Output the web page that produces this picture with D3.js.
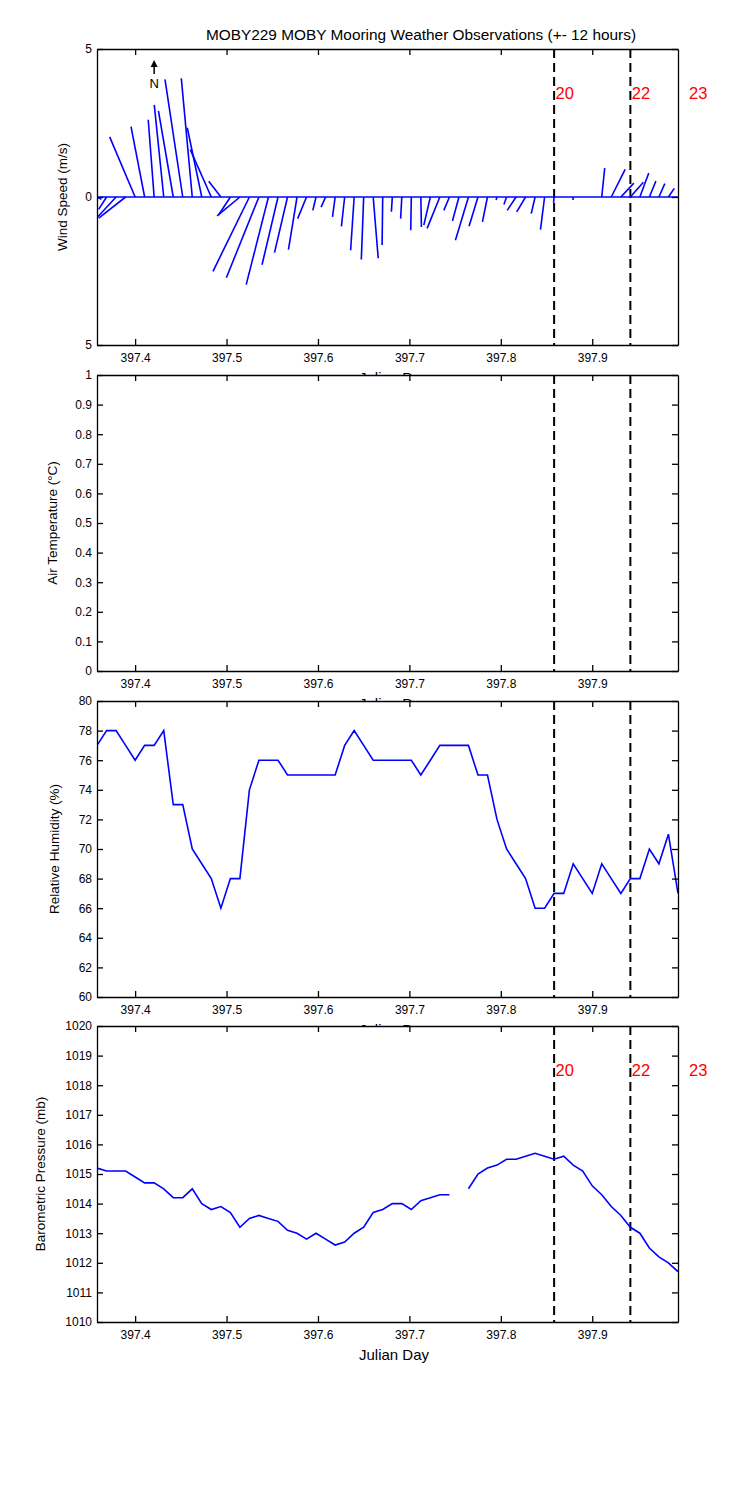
<!DOCTYPE html>
<html><head><meta charset="utf-8">
<script src="https://cdn.jsdelivr.net/npm/d3@7"></script>
<style>
body{margin:0;background:#fff}
svg text{font-family:"Liberation Sans",Arial,Helvetica,sans-serif;fill:#000}
</style></head>
<body><svg id="c" width="750" height="1500"></svg>
<script>
// ---------- data ----------
const julianDay = [397.3583,397.3688,397.3792,397.3896,397.4000,397.4104,397.4208,397.4313,397.4417,397.4521,
397.4625,397.4729,397.4833,397.4938,397.5042,397.5146,397.5250,397.5354,397.5458,397.5563,
397.5667,397.5771,397.5875,397.5979,397.6083,397.6188,397.6292,397.6396,397.6500,397.6604,
397.6708,397.6813,397.6917,397.7021,397.7125,397.7229,397.7333,397.7438,397.7542,397.7646,
397.7750,397.7854,397.7958,397.8063,397.8167,397.8271,397.8375,397.8479,397.8583,397.8688,
397.8792,397.8896,397.9000,397.9104,397.9208,397.9313,397.9417,397.9521,397.9625,397.9729,
397.9833,397.9938];
// wind vector components (m/s): east (u) and north (v)
const windU = [0.15,-0.27,-0.61,-0.91,-0.86,-0.46,-0.20,-0.32,-0.50,-0.60,
-0.37,-0.49,-0.71,-0.41,-0.40,-0.77,-1.23,-1.10,-0.75,-0.54,
-0.44,-0.29,-0.30,-0.11,-0.15,-0.09,-0.11,-0.12,-0.08,0.17,
-0.02,-0.03,-0.04,-0.02,0.02,-0.22,-0.43,-0.19,-0.22,-0.44,
-0.30,-0.17,-0.03,-0.09,-0.30,-0.30,-0.13,-0.14,-0.02,0,
-0.01,0,0,0.10,0.47,0.44,0.44,0.30,0.22,0.20,
0.20,0];
const windV = [-0.08,-0.42,-0.66,-0.71,2.03,2.38,2.61,3.11,2.91,3.97,
4.01,2.34,1.60,0.53,-0.61,-0.64,-2.51,-2.73,-2.96,-2.29,
-1.88,-1.78,-0.73,-0.45,-0.34,-0.67,-0.99,-1.80,-2.11,-2.07,
-1.62,-0.50,-0.73,-1.12,-1.01,-0.95,-1.06,-0.45,-0.81,-1.46,
-0.99,-0.84,-0.10,-0.25,-0.45,-0.50,-0.56,-1.10,-0.20,0,
-0.10,0,0,0.98,0.93,0.47,0.50,0.81,0.54,0.45,
0.29,0];
const humidity = [77,78,78,77,76,77,77,78,73,73,
70,69,68,66,68,68,74,76,76,76,
75,75,75,75,75,75,77,78,77,76,
76,76,76,76,75,76,77,77,77,77,
75,75,72,70,69,68,66,66,67,67,
69,68,67,69,68,67,68,68,70,69,
71,67];
const pressure = [1015.2,1015.1,1015.1,1015.1,1014.9,1014.7,1014.7,1014.5,1014.2,1014.2,
1014.5,1014.0,1013.8,1013.9,1013.7,1013.2,1013.5,1013.6,1013.5,1013.4,
1013.1,1013.0,1012.8,1013.0,1012.8,1012.6,1012.7,1013.0,1013.2,1013.7,
1013.8,1014.0,1014.0,1013.8,1014.1,1014.2,1014.3,1014.3,null,1014.5,
1015.0,1015.2,1015.3,1015.5,1015.5,1015.6,1015.7,1015.6,1015.5,1015.6,
1015.3,1015.1,1014.6,1014.3,1013.9,1013.6,1013.2,1013.0,1012.5,1012.2,
1012.0,1011.7];
const eventDays = [397.8583,397.9417,398.0042];
const eventLabels = ["20","22","23"];
const xTicks = [397.4,397.5,397.6,397.7,397.8,397.9];
const windTicks = [5,0,-5];
const windTickLabels = ["5","0","5"];
const tempTicks = [0,0.1,0.2,0.3,0.4,0.5,0.6,0.7,0.8,0.9,1];
const humTicks = [60,62,64,66,68,70,72,74,76,78,80];
const presTicks = [1010,1011,1012,1013,1014,1015,1016,1017,1018,1019,1020];
const titleText = "MOBY229 MOBY Mooring Weather Observations (+- 12 hours)";

// ---------- layout ----------
const svg = d3.select("#c");
const L = 97, R = 678, H = 296;
const tops = [49, 375, 701, 1026];
const x = d3.scaleLinear().domain([julianDay[0], julianDay[julianDay.length-1]]).range([L, R]);
const BLUE = "#0000ff";

svg.append("text").attr("x", 421).attr("y", 40).attr("text-anchor","middle")
  .style("font-size","15.4px").text(titleText);

function panel(i, domain, ticks, tickFmt, ylabel, ylabelX){
  const top = tops[i];
  const y = d3.scaleLinear().domain(domain).range([top+H, top]);
  const g = svg.append("g");
  g.append("rect").attr("x",L).attr("y",top).attr("width",R-L).attr("height",H).attr("fill","#fff");
  const cid = "clip"+i;
  g.append("clipPath").attr("id",cid).append("rect").attr("x",L).attr("y",top).attr("width",R-L).attr("height",H);
  const plot = g.append("g").attr("clip-path","url(#"+cid+")");
  const ax = (sel) => { sel.selectAll("path,line").attr("stroke","#000").attr("stroke-width",1.3);
    sel.selectAll("text").style("font-size","12px").attr("fill","#000"); };
  g.append("g").attr("transform",`translate(0,${top+H})`)
    .call(d3.axisBottom(x).tickValues(xTicks).tickSizeInner(-6).tickSizeOuter(0).tickPadding(8).tickFormat(d3.format(".1f"))).call(ax);
  g.append("g").attr("transform",`translate(0,${top})`)
    .call(d3.axisTop(x).tickValues(xTicks).tickSizeInner(-6).tickSizeOuter(0).tickFormat("")).call(ax);
  g.append("g").attr("transform",`translate(${L},0)`)
    .call(d3.axisLeft(y).tickValues(ticks).tickSizeInner(-6).tickSizeOuter(0).tickPadding(5).tickFormat(tickFmt)).call(ax);
  g.append("g").attr("transform",`translate(${R},0)`)
    .call(d3.axisRight(y).tickValues(ticks).tickSizeInner(-6).tickSizeOuter(0).tickFormat("")).call(ax);
  g.selectAll(".domain").attr("fill","none");
  g.append("text").attr("x", 394).attr("y", top+H+38).attr("text-anchor","middle").style("font-size","15px").text("Julian Day");
  g.append("text").attr("transform",`translate(${ylabelX},${top+H/2}) rotate(-90)`).attr("text-anchor","middle")
    .style("font-size","13.5px").text(ylabel);
  plot.selectAll("line.ev").data(eventDays).join("line").attr("class","ev")
    .attr("x1",d=>x(d)).attr("x2",d=>x(d)).attr("y1",top).attr("y2",top+H)
    .attr("stroke","#000").attr("stroke-width",2).attr("stroke-dasharray","9,5");
  return {g, plot, y, top};
}

// Panel 1: wind
const p1 = panel(0, [-5,5], windTicks, (d,k)=>windTickLabels[k], "Wind Speed (m/s)", 67);
const pxPerMs = p1.y(0) - p1.y(1);
p1.plot.append("line").attr("x1",L).attr("x2",R).attr("y1",p1.y(0)).attr("y2",p1.y(0)).attr("stroke",BLUE).attr("stroke-width",1.6);
p1.plot.selectAll("line.stick").data(julianDay).join("line").attr("class","stick")
  .attr("x1",d=>x(d)).attr("y1",p1.y(0))
  .attr("x2",(d,k)=>x(d)+windU[k]*pxPerMs).attr("y2",(d,k)=>p1.y(windV[k]))
  .attr("stroke",BLUE).attr("stroke-width",1.6);
// north arrow
const nx = x(397.4208);
p1.g.append("line").attr("x1",nx).attr("x2",nx).attr("y1",p1.top+25).attr("y2",p1.top+14)
  .attr("stroke","#000").attr("stroke-width",1.5);
p1.g.append("path").attr("d",`M${nx-3.5},${p1.top+18} L${nx},${p1.top+11} L${nx+3.5},${p1.top+18} Z`).attr("fill","#000");
p1.g.append("text").attr("x",nx).attr("y",p1.top+39).attr("text-anchor","middle").style("font-size","13px").text("N");

// Panel 2: air temperature (no data)
panel(1, [0,1], tempTicks, d3.format("~g"), "Air Temperature (\u00B0C)", 57);

// Panel 3: humidity
const p3 = panel(2, [60,80], humTicks, d3.format("d"), "Relative Humidity (%)", 59);
p3.plot.append("path").datum(humidity)
  .attr("d", d3.line().x((d,k)=>x(julianDay[k])).y(d=>p3.y(d)))
  .attr("fill","none").attr("stroke",BLUE).attr("stroke-width",1.6);

// Panel 4: pressure
const p4 = panel(3, [1010,1020], presTicks, d3.format("d"), "Barometric Pressure (mb)", 45);
p4.plot.append("path").datum(pressure)
  .attr("d", d3.line().defined(d=>d!=null).x((d,k)=>x(julianDay[k])).y(d=>p4.y(d)))
  .attr("fill","none").attr("stroke",BLUE).attr("stroke-width",1.6);

// red event labels on panels 1 and 4
[p1, p4].forEach(p => {
  p.g.selectAll("text.evl").data(eventDays).join("text").attr("class","evl")
    .attr("x",d=>x(d)+1.5).attr("y",p.top+50).style("font-size","16.5px")
    .style("fill","#ff0000").text((d,k)=>eventLabels[k]);
});
</script></body></html>
